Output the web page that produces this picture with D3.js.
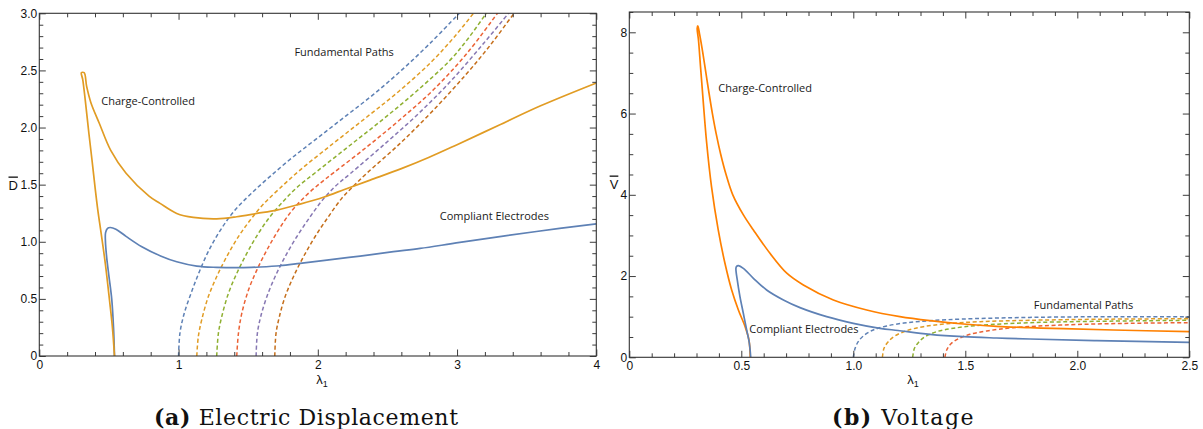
<!DOCTYPE html>
<html>
<head>
<meta charset="utf-8">
<script src="https://cdn.jsdelivr.net/npm/d3@7"></script>
<style>
  html, body { margin: 0; padding: 0; background: #fff; }
  svg { display: block; }
  .tick text { font-family: "Liberation Sans", Arial, sans-serif; font-size: 12px; fill: #111; }
  .tick line { stroke: #3c3c3c; stroke-width: 1; }
  .note { font-family: "Open Sans", "DejaVu Sans", sans-serif; font-size: 11px; fill: #1a1a1a; }
  .axlab { font-family: "Liberation Sans", Arial, sans-serif; font-size: 13px; fill: #111; }
  .cap { font-family: "DejaVu Serif", "Liberation Serif", serif; font-size: 22px; fill: #111; }
</style>
</head>
<body>
<svg id="chart" width="1203" height="429"></svg>
<script>
// ---------------- DATA ----------------
// Panel (a): electric displacement D vs stretch lambda1
const chargeD = [[0.54,0],[0.525,0.25],[0.504,0.49],[0.475,0.8],[0.444,1.076],[0.42,1.28],[0.40,1.48],[0.378,1.72],[0.356,1.95],[0.33,2.24],[0.312,2.42],[0.302,2.48],[0.322,2.48],[0.34,2.36],[0.37,2.22],[0.43,2.04],[0.513,1.80],[0.623,1.60],[0.788,1.40],[0.867,1.336],[0.987,1.248],[1.106,1.213],[1.274,1.201],[1.418,1.219],[1.562,1.248],[1.705,1.277],[1.873,1.33],[2.04,1.39],[2.196,1.46],[2.376,1.54],[2.6,1.64],[2.8,1.74],[3.0,1.85],[3.3,2.02],[3.6,2.19],[4.0,2.39]];
const compliantD = [[0.54,0],[0.533,0.25],[0.52,0.5],[0.50,0.7],[0.485,0.85],[0.475,1.0],[0.476,1.08],[0.49,1.118],[0.51,1.125],[0.55,1.11],[0.623,1.047],[0.733,0.959],[0.871,0.876],[0.987,0.825],[1.131,0.787],[1.274,0.776],[1.442,0.773],[1.585,0.779],[1.729,0.79],[1.873,0.811],[2.065,0.84],[2.304,0.875],[2.543,0.913],[2.735,0.942],[3.02,0.994],[3.57,1.09],[4.0,1.157]];
const fundD1 = [[1.0,0],[1.01,0.2],[1.04,0.37],[1.09,0.55],[1.15,0.74],[1.22,0.93],[1.30,1.10],[1.40,1.27],[1.52,1.42],[1.66,1.575],[1.82,1.74],[2.0,1.91],[2.2,2.10],[2.4,2.29],[2.6,2.50],[2.8,2.73],[3.0,2.98],[3.05,3.045]];
const fundD2 = [[1.131,0],[1.142,0.17],[1.167,0.32],[1.214,0.52],[1.276,0.70],[1.346,0.87],[1.43,1.045],[1.515,1.19],[1.61,1.33],[1.72,1.46],[1.87,1.625],[2.11,1.86],[2.35,2.09],[2.585,2.32],[2.82,2.58],[2.985,2.80],[3.118,3.0],[3.15,3.05]];
const fundD3 = [[1.274,0],[1.286,0.198],[1.31,0.344],[1.358,0.548],[1.418,0.723],[1.49,0.898],[1.573,1.073],[1.657,1.219],[1.753,1.355],[1.85,1.475],[1.993,1.615],[2.232,1.845],[2.471,2.075],[2.711,2.32],[2.95,2.59],[3.08,2.78],[3.21,3.0],[3.24,3.05]];
const fundD4 = [[1.418,0],[1.43,0.198],[1.454,0.373],[1.502,0.577],[1.562,0.752],[1.634,0.927],[1.717,1.102],[1.813,1.27],[1.92,1.41],[2.03,1.525],[2.12,1.61],[2.352,1.83],[2.591,2.07],[2.83,2.33],[3.07,2.648],[3.29,3.0],[3.32,3.05]];
const fundD5 = [[1.557,0],[1.566,0.198],[1.59,0.344],[1.634,0.519],[1.693,0.694],[1.765,0.869],[1.849,1.044],[1.945,1.219],[2.04,1.375],[2.13,1.49],[2.232,1.595],[2.471,1.846],[2.711,2.108],[2.95,2.4],[3.19,2.736],[3.369,3.0],[3.40,3.05]];
const fundD6 = [[1.691,0],[1.70,0.198],[1.724,0.344],[1.765,0.519],[1.825,0.694],[1.897,0.869],[1.98,1.044],[2.076,1.219],[2.172,1.38],[2.25,1.48],[2.352,1.6],[2.591,1.861],[2.83,2.152],[3.07,2.473],[3.238,2.72],[3.382,2.955],[3.41,3.0],[3.44,3.05]];
const fundDSeries = [fundD1, fundD2, fundD3, fundD4, fundD5, fundD6];

// Panel (b): voltage V vs stretch lambda1
const chargeV = [[0.54,0],[0.534,0.43],[0.517,0.754],[0.487,1.165],[0.457,1.657],[0.427,2.315],[0.397,3.135],[0.367,4.2],[0.345,5.3],[0.33,6.3],[0.318,7.15],[0.309,7.8],[0.303,8.1],[0.306,8.16],[0.314,7.95],[0.328,7.5],[0.342,7.0],[0.356,6.5],[0.371,6.0],[0.388,5.5],[0.408,5.0],[0.432,4.5],[0.462,4.0],[0.51,3.5],[0.554,3.135],[0.628,2.56],[0.703,2.07],[0.777,1.78],[0.911,1.411],[1.06,1.165],[1.208,1.0],[1.342,0.901],[1.491,0.82],[1.64,0.763],[1.789,0.729],[1.938,0.704],[2.161,0.672],[2.5,0.631]];
const compliantV = [[0.542,0],[0.536,0.345],[0.524,0.672],[0.509,1.084],[0.494,1.493],[0.482,1.904],[0.476,2.19],[0.479,2.24],[0.487,2.257],[0.509,2.19],[0.554,1.945],[0.613,1.657],[0.688,1.411],[0.762,1.222],[0.881,1.0],[1.0,0.837],[1.119,0.714],[1.2,0.66],[1.342,0.566],[1.491,0.507],[1.64,0.475],[1.789,0.45],[2.087,0.409],[2.5,0.369]];
const fundV1 = [[1.0,0],[1.008,0.221],[1.022,0.384],[1.045,0.525],[1.089,0.672],[1.149,0.771],[1.238,0.852],[1.342,0.901],[1.491,0.943],[1.714,0.975],[1.938,0.993],[2.235,1.0],[2.5,1.0]];
const fundV2 = [[1.13,0],[1.137,0.221],[1.156,0.384],[1.186,0.525],[1.238,0.655],[1.313,0.754],[1.417,0.827],[1.566,0.877],[1.789,0.911],[2.087,0.936],[2.5,0.951]];
const fundV3 = [[1.265,0],[1.273,0.221],[1.29,0.36],[1.32,0.507],[1.372,0.631],[1.446,0.714],[1.566,0.788],[1.789,0.852],[2.087,0.886],[2.5,0.911]];
const fundV4 = [[1.409,0],[1.417,0.18],[1.435,0.328],[1.469,0.458],[1.521,0.566],[1.596,0.648],[1.714,0.729],[1.938,0.796],[2.235,0.837],[2.5,0.852]];
const fundVSeries = [fundV1, fundV2, fundV3, fundV4];

// tick labels
const xTicksA = [0,1,2,3,4];
const xTickLabelsA = ["0","1","2","3","4"];
const yTicksA = [0,0.5,1,1.5,2,2.5,3];
const yTickLabelsA = ["0","0.5","1.0","1.5","2.0","2.5","3.0"];
const xTicksB = [0,0.5,1,1.5,2,2.5];
const xTickLabelsB = ["0","0.5","1.0","1.5","2.0","2.5"];
const yTicksB = [0,2,4,6,8];
const yTickLabelsB = ["0","2","4","6","8"];

// text
const notesA = [
  {text:"Fundamental Paths", x:1.832, y:2.625},
  {text:"Charge-Controlled", x:0.445, y:2.2},
  {text:"Compliant Electrodes", x:2.876, y:1.187}
];
const notesB = [
  {text:"Charge-Controlled", x:0.397, y:6.52},
  {text:"Compliant Electrodes", x:0.536, y:0.606},
  {text:"Fundamental Paths", x:1.806, y:1.19}
];
const fundColors = ["#5E81B5","#E19C24","#8FB032","#EB6235","#8778B3","#C56E1A"];
// --------------------------------------

const svg = d3.select("#chart");

function panel(cfg) {
  const g = svg.append("g");
  const x = d3.scaleLinear().domain(cfg.xDomain).range(cfg.xRange);
  const y = d3.scaleLinear().domain(cfg.yDomain).range(cfg.yRange);
  const [x0, x1] = cfg.xRange, [y0, y1] = cfg.yRange;

  const clipId = "clip" + cfg.id;
  svg.append("clipPath").attr("id", clipId)
    .append("rect").attr("x", x0).attr("y", y1).attr("width", x1 - x0).attr("height", y0 - y1);

  const line = d3.line().x(d => x(d[0])).y(d => y(d[1])).curve(d3.curveCatmullRom.alpha(0.5));
  const plot = g.append("g").attr("clip-path", `url(#${clipId})`);
  cfg.draw(plot, line);

  const minorX = d3.range(cfg.xDomain[0], cfg.xDomain[1] + 1e-9, cfg.xMinor).filter(v => !cfg.xTicks.some(t => Math.abs(t - v) < 1e-6));
  const minorY = d3.range(cfg.yDomain[0], cfg.yDomain[1] + 1e-9, cfg.yMinor).filter(v => !cfg.yTicks.some(t => Math.abs(t - v) < 1e-6));
  const maj = 6.5, mnr = 4;

  const axes = [
    [d3.axisBottom(x), y0, "x", true],
    [d3.axisTop(x), y1, "x", false],
    [d3.axisLeft(y), x0, "y", true],
    [d3.axisRight(y), x1, "y", false]
  ];
  axes.forEach(([ax, pos, dim, labelled]) => {
    const tr = dim === "x" ? `translate(0,${pos})` : `translate(${pos},0)`;
    const majorAx = ax.tickValues(dim === "x" ? cfg.xTicks : cfg.yTicks).tickSize(-maj);
    if (labelled) {
      const labs = dim === "x" ? cfg.xLabels : cfg.yLabels;
      const vals = dim === "x" ? cfg.xTicks : cfg.yTicks;
      majorAx.tickFormat((d) => labs[vals.indexOf(d)]).tickPadding(dim === "x" ? 4.5 : 2);
    } else {
      majorAx.tickFormat("");
    }
    const ga = g.append("g").attr("transform", tr).call(majorAx);
    ga.select(".domain").remove();
    const mAx = (dim === "x" ? (labelled ? d3.axisBottom(x) : d3.axisTop(x)) : (labelled ? d3.axisLeft(y) : d3.axisRight(y)))
      .tickValues(dim === "x" ? minorX : minorY).tickSize(-mnr).tickFormat("");
    const gm = g.append("g").attr("transform", tr).call(mAx);
    gm.select(".domain").remove();
  });

  g.append("rect").attr("x", x0).attr("y", y1).attr("width", x1 - x0).attr("height", y0 - y1)
    .attr("fill", "none").attr("stroke", "#333").attr("stroke-width", 1.1);

  cfg.notes.forEach(n => {
    g.append("text").attr("class", "note").attr("x", x(n.x)).attr("y", y(n.y)).text(n.text);
  });

  g.append("text").attr("class", "axlab").attr("x", cfg.yLabPos[0]).attr("y", cfg.yLabPos[1])
    .attr("text-anchor", "middle").style("text-decoration", "overline").text(cfg.yName);
  const xl = g.append("text").attr("class", "axlab").attr("x", cfg.xLabPos[0]).attr("y", cfg.xLabPos[1])
    .attr("text-anchor", "middle");
  xl.append("tspan").text("λ");
  xl.append("tspan").attr("font-size", "9px").attr("dy", 3).text("1");

  const cap = g.append("text").attr("class", "cap").attr("x", cfg.capPos[0]).attr("y", cfg.capPos[1])
    .attr("textLength", cfg.capWidth).attr("lengthAdjust", "spacing");
  cap.append("tspan").attr("font-weight", "bold").text(cfg.capBold);
  cap.append("tspan").text(" " + cfg.capText);
}

panel({
  id: "A",
  xDomain: [0, 4], xRange: [39.3, 596.3],
  yDomain: [0, 3], yRange: [356, 13.3],
  xTicks: xTicksA, xLabels: xTickLabelsA, yTicks: yTicksA, yLabels: yTickLabelsA,
  xMinor: 0.2, yMinor: 0.1,
  notes: notesA,
  yName: "D", yLabPos: [13.2, 189.5], xLabPos: [322, 384],
  capPos: [154, 425], capWidth: 304, capBold: "(a)", capText: "Electric Displacement",
  draw: (p, line) => {
    fundDSeries.forEach((s, i) => {
      p.append("path").attr("d", line(s)).attr("fill", "none").attr("stroke", fundColors[i])
        .attr("stroke-width", 1.5).attr("stroke-dasharray", "4,2.6");
    });
    p.append("path").attr("d", line(compliantD)).attr("fill", "none").attr("stroke", "#5E81B5").attr("stroke-width", 1.7);
    p.append("path").attr("d", line(chargeD)).attr("fill", "none").attr("stroke", "#E19C24").attr("stroke-width", 1.7);
  }
});

panel({
  id: "B",
  xDomain: [0, 2.5], xRange: [629.3, 1189.3],
  yDomain: [0, 8.5], yRange: [357.3, 12.0],
  xTicks: xTicksB, xLabels: xTickLabelsB, yTicks: yTicksB, yLabels: yTickLabelsB,
  xMinor: 0.1, yMinor: 0.5,
  notes: notesB,
  yName: "V", yLabPos: [614, 188.5], xLabPos: [913, 383.5],
  capPos: [832, 425], capWidth: 141.5, capBold: "(b)", capText: "Voltage",
  draw: (p, line) => {
    fundVSeries.forEach((s, i) => {
      p.append("path").attr("d", line(s)).attr("fill", "none").attr("stroke", fundColors[i])
        .attr("stroke-width", 1.5).attr("stroke-dasharray", "4,2.6");
    });
    p.append("path").attr("d", line(chargeV)).attr("fill", "none").attr("stroke", "#FF8000").attr("stroke-width", 1.7);
    p.append("path").attr("d", line(compliantV)).attr("fill", "none").attr("stroke", "#5E81B5").attr("stroke-width", 1.7);
  }
});
</script>
</body>
</html>
